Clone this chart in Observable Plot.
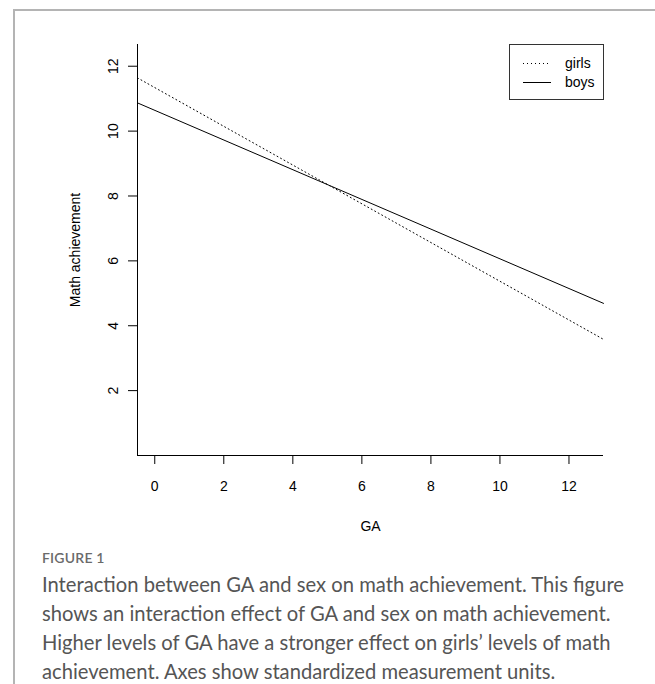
<!DOCTYPE html>
<html>
<head>
<meta charset="utf-8">
<script src="https://cdn.jsdelivr.net/npm/d3@7"></script>
<script src="https://cdn.jsdelivr.net/npm/@observablehq/plot@0.6"></script>
<style>
  html, body { margin: 0; padding: 0; background: #fff; }
  #wrap { position: relative; width: 655px; height: 684px; overflow: hidden; background: #fff; }
  #border { position: absolute; left: 13px; top: 9px; right: -4px; bottom: -4px;
            border-top: 2px solid #b4b4b4; border-left: 2px solid #b4b4b4; }
  #chart { position: absolute; left: 0; top: 0; }
  #legend { position: absolute; left: 509px; top: 44px; width: 93px; height: 54px;
            border: 1px solid #333; font-family: "Liberation Sans", Arial, sans-serif; font-size: 14px; color: #000; }
  .lrow { position: absolute; left: 0; height: 19px; line-height: 19px; white-space: nowrap; }
  .lrow svg { position: absolute; left: 13px; top: 0; }
  .lrow span { position: absolute; left: 55px; top: 0; }
  #figlabel { position: absolute; left: 42px; top: 549px; font-family: Lato, "Open Sans", sans-serif;
              font-size: 14px; line-height: 18px; color: #6a6a6a; font-weight: 600; letter-spacing: 0.2px; }
  #caption { position: absolute; left: 42px; top: 570px; width: 610px; font-family: Lato, "Open Sans", sans-serif;
             font-size: 20.2px; color: #555; white-space: nowrap; }
  #caption div { height: 29px; line-height: 29px; }
</style>
</head>
<body>
<div id="wrap">
  <div id="border"></div>
  <div id="chart"></div>
  <div id="legend"></div>
  <div id="figlabel">FIGURE 1</div>
  <div id="caption"></div>
</div>
<script>
// ---- data ----
const gaValues = [-0.5, 13];          // GA at the two ends of the fitted lines
const girlsValues = [11.64, 3.58];    // math achievement, girls
const boysValues = [10.87, 4.69];     // math achievement, boys
const seriesNames = ["girls", "boys"];
const seriesDash = ["1,3", null];
const xTicks = [0, 2, 4, 6, 8, 10, 12];
const yTicks = [2, 4, 6, 8, 10, 12];
const xDomain = [-0.5, 13];
const yDomain = [0, 12.67];
const xLabel = "GA";
const yLabel = "Math achievement";
const captionLines = [
  "Interaction between GA and sex on math achievement. This figure",
  "shows an interaction effect of GA and sex on math achievement.",
  "Higher levels of GA have a stronger effect on girls\u2019 levels of math",
  "achievement. Axes show standardized measurement units."
];

const girlsRows = gaValues.map((g, i) => ({ga: g, value: girlsValues[i], sex: "girls"}));
const boysRows = gaValues.map((g, i) => ({ga: g, value: boysValues[i], sex: "boys"}));

const chart = Plot.plot({
  width: 655,
  height: 540,
  marginLeft: 137,
  marginRight: 52,
  marginTop: 44,
  marginBottom: 85,
  style: {fontFamily: "'Liberation Sans', Arial, sans-serif", fontSize: "14px", color: "#000", background: "transparent"},
  x: {domain: xDomain},
  y: {domain: yDomain},
  marks: [
    Plot.ruleX([xDomain[0]], {stroke: "#000", strokeWidth: 1}),
    Plot.ruleY([yDomain[0]], {stroke: "#000", strokeWidth: 1}),
    Plot.axisX({ticks: xTicks, tickSize: 9, tickPadding: 17, label: null, stroke: "#000", fill: "#000", fontSize: 14}),
    Plot.axisY({ticks: yTicks, tickSize: 9, tickPadding: 11, tickRotate: -90, label: null, stroke: "#000", fill: "#000", fontSize: 14}),
    Plot.line(girlsRows, {x: "ga", y: "value", stroke: "#000", strokeWidth: 1, strokeDasharray: "1,3"}),
    Plot.line(boysRows, {x: "ga", y: "value", stroke: "#000", strokeWidth: 1}),
    Plot.text([xLabel], {frameAnchor: "bottom", dy: 75, fill: "#000", fontSize: 14}),
    Plot.text([yLabel], {frameAnchor: "left", dx: -62, rotate: -90, textAnchor: "middle", fill: "#000", fontSize: 14})
  ]
});
document.getElementById("chart").appendChild(chart);

// legend
const legend = document.getElementById("legend");
seriesNames.forEach((name, i) => {
  const row = document.createElement("div");
  row.className = "lrow";
  row.style.top = (9 + i * 19) + "px";
  row.style.width = "93px";
  const dash = seriesDash[i] ? `stroke-dasharray="${seriesDash[i]}"` : "";
  row.innerHTML = `<svg width="30" height="19"><line x1="0" x2="28" y1="9.5" y2="9.5" stroke="#000" stroke-width="1" ${dash}/></svg><span>${name}</span>`;
  legend.appendChild(row);
});

const cap = document.getElementById("caption");
captionLines.forEach(t => {
  const d = document.createElement("div");
  d.textContent = t;
  cap.appendChild(d);
});
</script>
</body>
</html>
